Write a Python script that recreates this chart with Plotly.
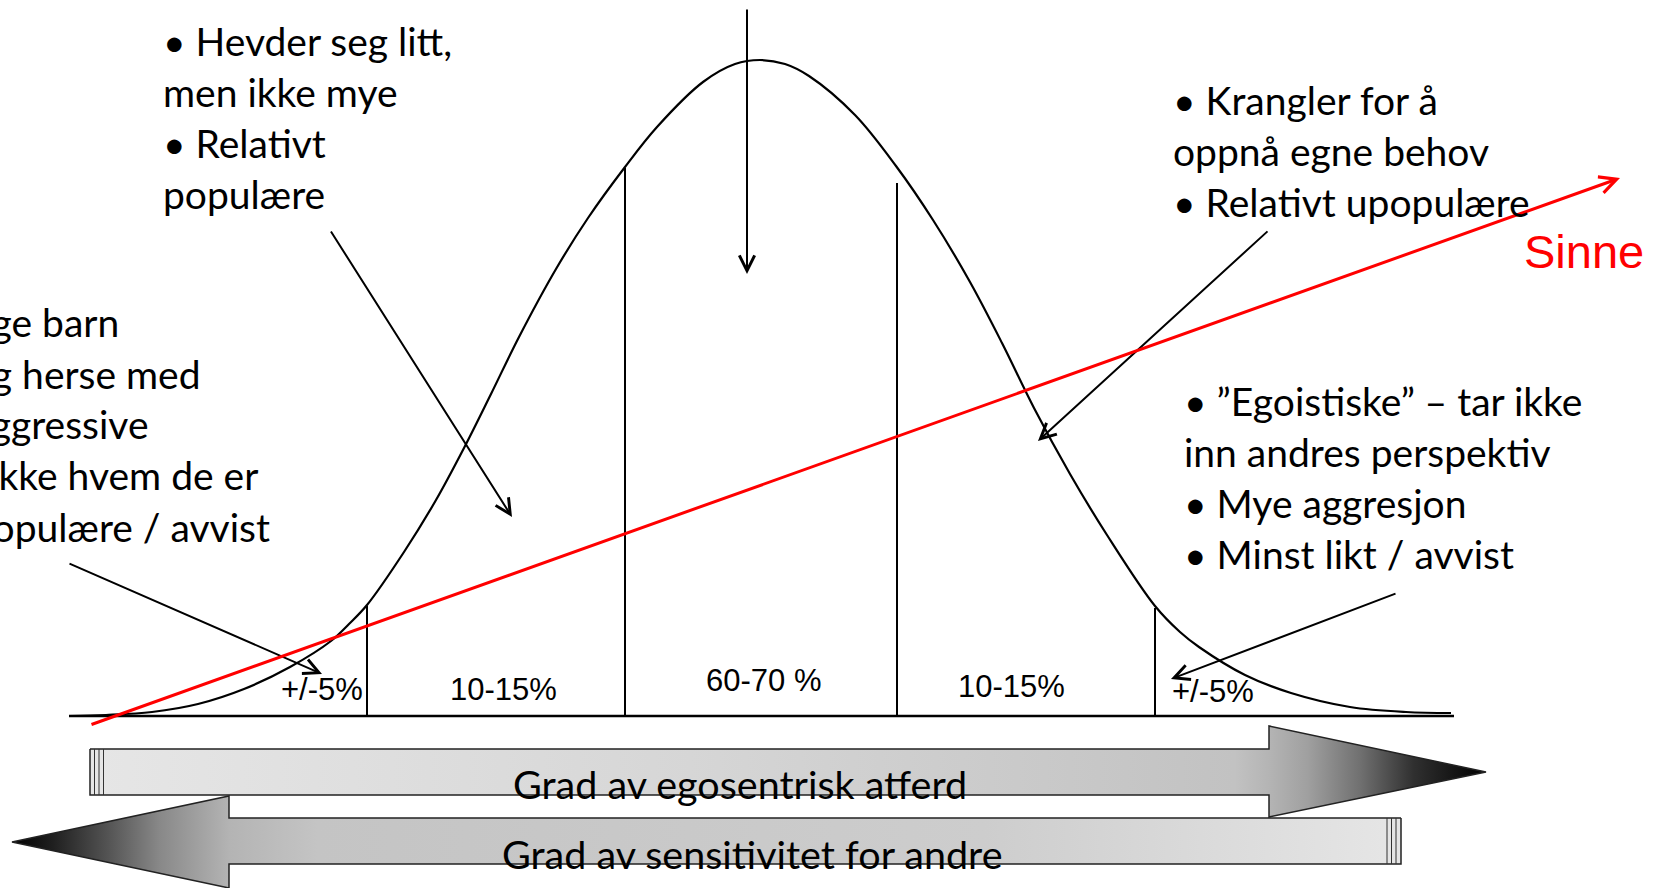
import plotly.graph_objects as go

W, H = 1658, 888

# ---- bell curve (canvas units, y grows downward) ----
CURVE_X = [69, 106, 152, 198, 244, 290, 331, 349, 367, 404, 436, 464, 491, 519, 556, 588, 625, 657, 703, 735, 760,
           785, 809, 855, 896, 933, 970, 1002, 1034, 1070, 1107, 1155, 1180, 1199, 1245, 1291, 1350, 1406, 1451]
CURVE_Y = [716, 715, 712, 704, 689, 667, 641, 624, 605, 552, 500, 448, 394, 337, 269, 218, 167, 127, 82, 64, 60,
           64, 76, 115, 166, 220, 282, 343, 408, 474, 535, 606, 632, 647, 675, 693, 707, 712, 713]

BASE_X = [69, 1454]
BASE_Y = 716

DIVIDER_X = [367, 625, 897, 1155]
DIVIDER_TOP = [606, 168, 183, 608]

SEGMENT_LABELS = ["+/-5%", "10-15%", "60-70 %", "10-15%", "+/-5%"]
SEGMENT_X = [322, 503, 763, 1011, 1213]
SEGMENT_Y = [689, 689, 680, 686, 691]

TEXT_A = ["• Hevder seg litt,", "men ikke mye", "• Relativt", "populære"]
TEXT_B = ["• Krangler for å", "oppnå egne behov", "• Relativt upopulære"]
TEXT_C = ["• ”Egoistiske” – tar ikke", "inn andres perspektiv", "• Mye aggresjon", "• Minst likt / avvist"]
TEXT_D = ["• Engstelige barn", "• Lar seg herse med", "• Ikke aggressive", "• Vet ikke hvem de er",
          "• Upopulære / avvist"]

ARROW_RIGHT_LABEL = "Grad av egosentrisk atferd"
ARROW_LEFT_LABEL = "Grad av sensitivitet for andre"
ANGER_LABEL = "Sinne"

# block arrow outlines
RIGHT_ARROW_X = [90, 1269, 1269, 1486, 1269, 1269, 90, 90]
RIGHT_ARROW_Y = [749, 749, 726, 772, 817, 795, 795, 749]
LEFT_ARROW_X = [1401, 229, 229, 12, 229, 229, 1401, 1401]
LEFT_ARROW_Y = [818, 818, 796, 842, 888, 864, 864, 818]

BODY_FONT = "Lato, Carlito, Calibri, sans-serif"
ARIAL = "Liberation Sans, Arial, sans-serif"

fig = go.Figure()

# block arrows with gradient
fig.add_trace(go.Scatter(
    x=RIGHT_ARROW_X, y=RIGHT_ARROW_Y, mode="lines", fill="toself",
    fillgradient=dict(type="horizontal", start=90, stop=1486,
                      colorscale=[[0.0, "#e6e6e6"], [0.43, "#d6d6d6"], [0.82, "#c2c2c2"],
                                  [0.845, "#b4b4b4"], [0.872, "#a0a0a0"], [0.91, "#707070"],
                                  [0.948, "#303030"], [1.0, "#000000"]]),
    line=dict(color="#222222", width=1.5), hoverinfo="skip"))
fig.add_trace(go.Scatter(
    x=LEFT_ARROW_X, y=LEFT_ARROW_Y, mode="lines", fill="toself",
    fillgradient=dict(type="horizontal", start=12, stop=1401,
                      colorscale=[[0.0, "#000000"], [0.03, "#202020"], [0.07, "#555555"],
                                  [0.106, "#888888"], [0.145, "#aaaaaa"], [0.157, "#b4b4b4"],
                                  [0.22, "#c4c4c4"], [0.7, "#cdcdcd"], [1.0, "#e6e6e6"]]),
    line=dict(color="#222222", width=1.5), hoverinfo="skip"))

# striped ends of the block arrows
stripe_x, stripe_y = [], []
for sx in (94.5, 99, 103.5):
    stripe_x += [sx, sx, None]
    stripe_y += [749, 795, None]
for sx in (1387, 1391.5, 1396):
    stripe_x += [sx, sx, None]
    stripe_y += [818, 864, None]
fig.add_trace(go.Scatter(x=stripe_x, y=stripe_y, mode="lines",
                         line=dict(color="#333333", width=1), hoverinfo="skip"))

# baseline
fig.add_trace(go.Scatter(x=BASE_X, y=[BASE_Y, BASE_Y], mode="lines",
                         line=dict(color="black", width=2.5), hoverinfo="skip"))

# dividers
dx, dy = [], []
for xv, top in zip(DIVIDER_X, DIVIDER_TOP):
    dx += [xv, xv, None]
    dy += [BASE_Y, top, None]
fig.add_trace(go.Scatter(x=dx, y=dy, mode="lines", line=dict(color="black", width=2),
                         hoverinfo="skip"))

# bell curve
fig.add_trace(go.Scatter(x=CURVE_X, y=CURVE_Y, mode="lines",
                         line=dict(color="black", width=2.2, shape="spline", smoothing=1.0),
                         hoverinfo="skip"))


def arrow(x0, y0, x1, y1, color="black", width=2.0, size=1.5):
    fig.add_annotation(x=x1, y=y1, ax=x0, ay=y0, xref="x", yref="y", axref="x", ayref="y",
                       text="", showarrow=True, arrowhead=5, arrowsize=size, arrowwidth=width,
                       arrowcolor=color, standoff=0)


arrow(330, 230, 512, 517)
arrow(747, 8, 747, 274)
arrow(1269, 230, 1038, 441)
arrow(68, 563, 322, 674)
arrow(1397, 593, 1171, 679)
arrow(90, 725, 1620, 178, color="#ff0000", width=3, size=1.1)

# segment labels
for lab, xv, yv in zip(SEGMENT_LABELS, SEGMENT_X, SEGMENT_Y):
    fig.add_annotation(x=xv, y=yv, xref="x", yref="y", text=lab, showarrow=False,
                       xanchor="center", yanchor="middle",
                       font=dict(family=ARIAL, size=31, color="black"))


def block(lines, xs, ys, anchor="left"):
    for t, xv, yv in zip(lines, xs, ys):
        fig.add_annotation(x=xv, y=yv, xref="x", yref="y", text=t, showarrow=False,
                           xanchor=anchor, yanchor="middle",
                           font=dict(family=BODY_FONT, size=39, color="black"))


block(TEXT_A, [161] * 4, [41, 92, 143, 194])
block(TEXT_B, [1171] * 3, [100, 151, 202])
block(TEXT_C, [1182] * 4, [401, 452, 503, 554])
block(TEXT_D, [121, 203, 150, 260, 272], [322, 374, 424, 475, 527], anchor="right")

fig.add_annotation(x=740, y=783, xref="x", yref="y", text=ARROW_RIGHT_LABEL, showarrow=False,
                   xanchor="center", yanchor="middle",
                   font=dict(family=BODY_FONT, size=39.5, color="black"))
fig.add_annotation(x=752, y=853, xref="x", yref="y", text=ARROW_LEFT_LABEL, showarrow=False,
                   xanchor="center", yanchor="middle",
                   font=dict(family=BODY_FONT, size=39.5, color="black"))
fig.add_annotation(x=1584, y=251, xref="x", yref="y", text=ANGER_LABEL, showarrow=False,
                   xanchor="center", yanchor="middle",
                   font=dict(family=ARIAL, size=47, color="#ff0000"))

fig.update_layout(
    width=W, height=H, margin=dict(l=0, r=0, t=0, b=0),
    paper_bgcolor="white", plot_bgcolor="white", showlegend=False,
    xaxis=dict(range=[0, W], visible=False, fixedrange=True),
    yaxis=dict(range=[H, 0], visible=False, fixedrange=True),
)

fig.write_html("out.html", config={"displayModeBar": False},
               post_script="document.body.style.margin='0px';document.body.style.overflow='hidden';")
